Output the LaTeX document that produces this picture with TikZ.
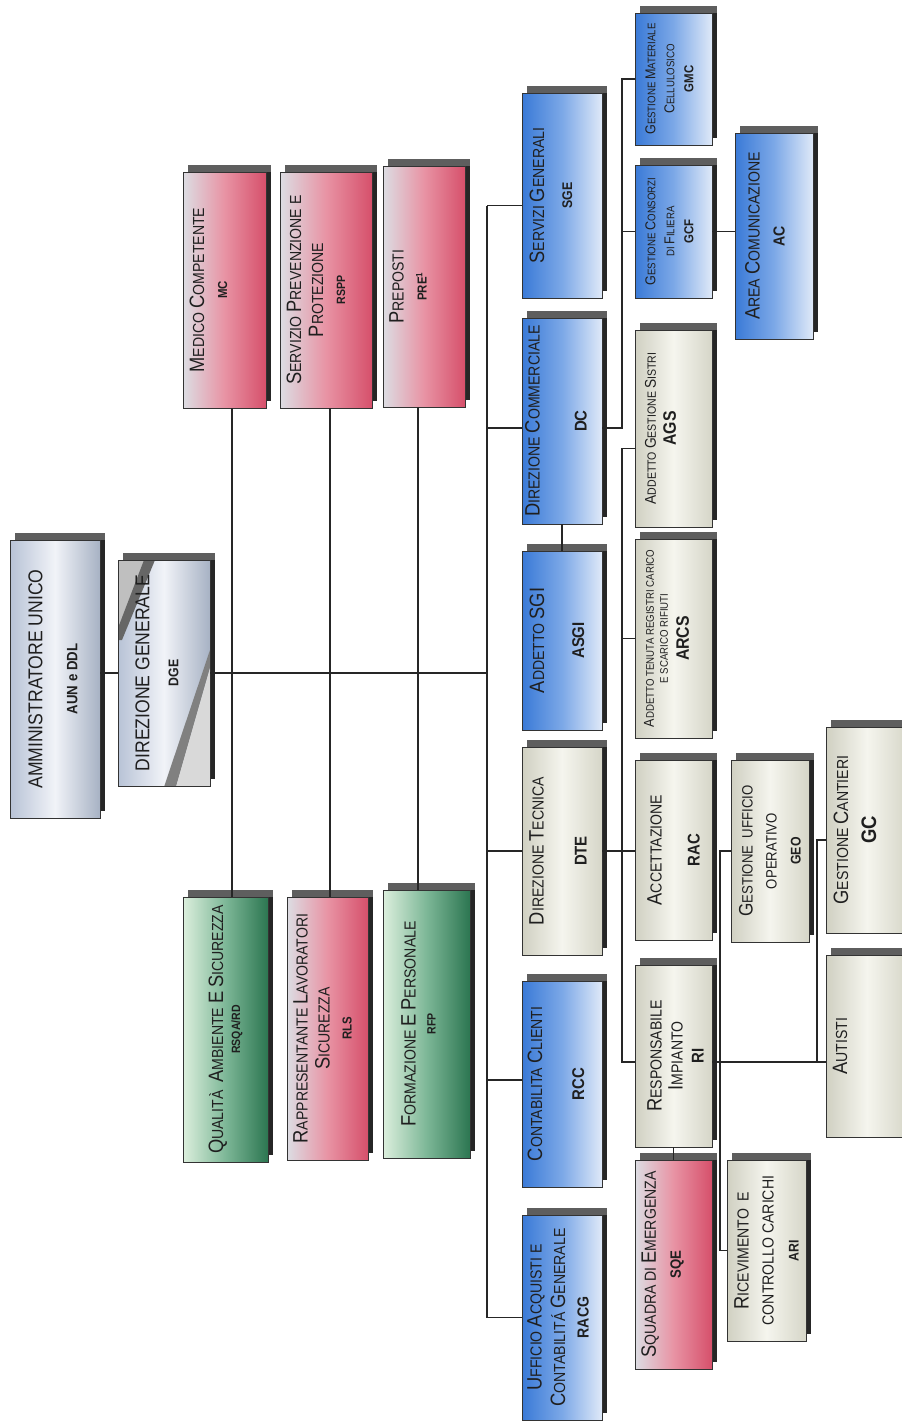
\documentclass[tikz,border=0pt]{standalone}
\usepackage{fontspec}
\setmainfont{Liberation Sans}[FakeStretch=0.88]
\usetikzlibrary{calc}
\makeatletter
\newcommand\B[1]{{\fontsize{\dimexpr 1.3\dimexpr\f@size pt\relax\relax}{0pt}\selectfont #1}}
\makeatother
\newcommand\fz[1]{\bfseries\fontsize{#1}{#1}\selectfont}
\newcommand\fs[2]{\fontsize{#1}{#2}\selectfont}
\definecolor{shadowdark}{HTML}{262626}
\definecolor{shadowgrey}{HTML}{5E5E5E}
\definecolor{pinkL}{HTML}{DCDDE3}
\definecolor{pinkM}{HTML}{E893A4}
\definecolor{pinkR}{HTML}{D6506B}
\definecolor{greenL}{HTML}{DCEFDD}
\definecolor{greenM}{HTML}{7DB797}
\definecolor{greenR}{HTML}{2C7651}
\definecolor{blueL}{HTML}{3A7AD7}
\definecolor{blueM}{HTML}{7CA8E7}
\definecolor{blueR}{HTML}{DFE9F8}
\definecolor{begL}{HTML}{D0D0C2}
\definecolor{begM}{HTML}{F5F5EE}
\definecolor{begR}{HTML}{D6D6C8}
\definecolor{silL}{HTML}{B8C3D6}
\definecolor{silM}{HTML}{F1F3F8}
\definecolor{silR}{HTML}{A7B2C4}
\tikzset{
  box/.style={draw=black!80, line width=0.8pt, inner sep=0pt, outer sep=0pt},
  pinkbox/.style={left color=pinkL, right color=pinkR, middle color=pinkM},
  greenbox/.style={left color=greenL, right color=greenR, middle color=greenM},
  bluebox/.style={left color=blueL, right color=blueR, middle color=blueM},
  begbox/.style={left color=begL, right color=begR, middle color=begM},
  silbox/.style={left color=silL, right color=silR, middle color=silM},
  txt/.style={rotate=90, align=center, inner sep=0pt, text=black!88},
  link/.style={draw=black!85, line width=1.1pt},
  shadowc/.style={fill=shadowdark},
  shadowtop/.style={fill=shadowgrey}
}
% #1 name, #2 x1, #3 y1, #4 x2, #5 y2, #6 box style, #7 text dx, #8 text style, #9 text
\newcommand\orgbox[9]{%
  \fill[shadowc] ({#2+5},{#3-7}) rectangle ({#4+5},{#5-7});
  \fill[shadowtop] ({#2+5},{#3-7}) rectangle ({#4+5},{#3});
  \node[box,#6,minimum width={(#4-#2)*1pt},minimum height={(#5-#3)*1pt}] (#1) at ({(#2+#4)/2},{(#3+#5)/2}) {};
  \node[txt,#8] (#1-t) at ({(#2+#4)/2+#7},{(#3+#5)/2}) {#9};
}
\begin{document}
\begin{tikzpicture}[x=1pt,y=-1pt]
\useasboundingbox[fill=white] (0,0) rectangle (902,1422);

% top level
\fill[shadowc] (15,533) rectangle (105,811);
\fill[shadowtop] (15,533) rectangle (105,540);
\node[box,silbox,minimum width=90pt,minimum height=278pt] (aun) at (55,679) {};
\node[txt,font=\fs{20}{35}] (aun-t) at (53,679) {AMMINISTRATORE UNICO\\{\fz{15}AUN e DDL}};

\fill[shadowc] (123,553) rectangle (215,779);
\fill[shadowtop] (123,553) rectangle (215,560);
\node[box,silbox,minimum width=92pt,minimum height=226pt] (dge) at (164,673) {};
\begin{scope}
  \clip (dge.south west) rectangle (dge.north east);
  \fill[black!25] (118,560) -- (147,560) -- (118,628) -- cycle;
  \fill[black!60] (144,560) -- (155,560) -- (122,640) -- (118,640) -- (118,628) -- cycle;
  \fill[black!50] (210,650) -- (210,668) -- (176,787) -- (164,787) -- cycle;
  \fill[black!15] (210,668) -- (210,787) -- (176,787) -- cycle;
\end{scope}
\draw[box] (dge.south west) rectangle (dge.north east);
\node[txt,font=\fs{20}{29}] (dge-t) at (157,673) {DIREZIONE GENERALE\\{\fz{14}DGE}};

% staff boxes
\orgbox{mc}{183}{172}{266}{408}{pinkbox}{-16}{font=\fs{16}{23}}{\B{M}EDICO \B{C}OMPETENTE\\{\fz{13}MC}}
\orgbox{rspp}{280}{172}{372}{408}{pinkbox}{-10}{font=\fs{16}{22}}{\B{S}ERVIZIO \B{P}REVENZIONE E\\\B{P}ROTEZIONE\\{\fz{12}RSPP}}
\orgbox{pre}{383}{166}{465}{407}{pinkbox}{-16}{font=\fs{16}{23}}{\B{P}REPOSTI\\{\fz{13}PRE\textsuperscript{1}}}
\orgbox{qas}{183}{897}{268}{1162}{greenbox}{0}{font=\fs{16}{17}}{\B{Q}UALITÀ\ \ \B{A}MBIENTE \B{E} \B{S}ICUREZZA\\{\fz{12}RSQA/RD}}
\orgbox{rls}{287}{897}{368}{1160}{pinkbox}{-5}{font=\fs{16}{22}}{\B{R}APPRESENTANTE \B{L}AVORATORI\\\B{S}ICUREZZA\\{\fz{13}RLS}}
\orgbox{rfp}{383}{890}{470}{1158}{greenbox}{-8}{font=\fs{16}{20}}{\B{F}ORMAZIONE \B{E} \B{P}ERSONALE\\{\fz{12}RFP}}

% main column
\orgbox{sge}{522}{93}{602}{298}{bluebox}{-11}{font=\fs{16}{28}}{\B{S}ERVIZI \B{G}ENERALI\\{\fz{14}SGE}}
\orgbox{dc}{522}{318}{602}{524}{bluebox}{-6}{font=\fs{16}{47}}{\B{D}IREZIONE \B{C}OMMERCIALE\\{\fz{17}DC}}
\orgbox{asgi}{522}{551}{602}{730}{bluebox}{-5}{font=\fs{16}{40}}{\B{A}DDETTO \B{SGI}\\{\fz{17}ASGI}}
\orgbox{dte}{522}{747}{602}{955}{begbox}{-4}{font=\fs{16}{43}}{\B{D}IREZIONE \B{T}ECNICA\\{\fz{17}DTE}}
\orgbox{rcc}{522}{981}{602}{1187}{bluebox}{-6}{font=\fs{16}{42}}{\B{C}ONTABILITA \B{C}LIENTI\\{\fz{17}RCC}}
\orgbox{racg}{522}{1215}{602}{1420}{bluebox}{-4}{font=\fs{16}{23.5}}{\B{U}FFICIO \B{A}CQUISTI E\\\B{C}ONTABILITÁ \B{G}ENERALE\\{\fz{16}RACG}}

% second column
\orgbox{gmc}{635}{13}{712}{145}{bluebox}{-4}{font=\fs{11}{19}}{\B{G}ESTIONE \B{M}ATERIALE\\\B{C}ELLULOSICO\\{\fz{13}GMC}}
\orgbox{gcf}{635}{165}{712}{298}{bluebox}{-4}{font=\fs{11}{19}}{\B{G}ESTIONE \B{C}ONSORZI\\DI \B{F}ILIERA\\{\fz{13}GCF}}
\orgbox{ac}{735}{133}{813}{339}{bluebox}{-9}{font=\fs{16}{25}}{\B{A}REA \B{C}OMUNICAZIONE\\{\fz{16}AC}}
\orgbox{ags}{635}{330}{712}{527}{begbox}{-13}{font=\fs{12}{20}}{\B{A}DDETTO \B{G}ESTIONE \B{S}ISTRI\\{\fz{18}AGS}}
\orgbox{arcs}{635}{539}{712}{738}{begbox}{-7}{font=\fs{11}{14}}{\B{A}DDETTO TENUTA REGISTRI CARICO\\E SCARICO RIFIUTI\\[7pt]{\fz{18}ARCS}}
\orgbox{rac}{635}{760}{712}{940}{begbox}{0}{font=\fs{16}{38}}{\B{A}CCETTAZIONE\\{\fz{17}RAC}}
\orgbox{ri}{635}{965}{712}{1147}{begbox}{2}{font=\fs{16}{21}}{\B{R}ESPONSABILE\\\B{I}MPIANTO\\{\fz{17}RI}}
\orgbox{sqe}{635}{1160}{712}{1369}{pinkbox}{-11}{font=\fs{16}{25}}{\B{S}QUADRA DI \B{E}MERGENZA\\{\fz{15}SQE}}

% third / fourth columns
\orgbox{geo}{731}{760}{809}{942}{begbox}{0}{font=\fs{15}{24}}{\B{G}ESTIONE\ \ UFFICIO\\OPERATIVO\\{\fz{14}GEO}}
\orgbox{ari}{727}{1160}{806}{1341}{begbox}{0}{font=\fs{16}{25}}{\B{R}ICEVIMENTO\ \ E\\CONTROLLO CARICHI\\{\fz{14}ARI}}
\orgbox{gc}{826}{727}{908}{933}{begbox}{-12}{font=\fs{16}{28}}{\B{G}ESTIONE \B{C}ANTIERI\\{\fz{21}GC}}
\orgbox{autisti}{826}{955}{908}{1137}{begbox}{-27}{font=\fs{16}{20}}{\B{A}UTISTI}

% bus coordinates
\coordinate (bx) at (487,0);
\coordinate (bx2) at (622,0);
\coordinate (bx3) at (720,0);
\coordinate (bx4) at (817,0);
\coordinate (v1) at (232,0);
\coordinate (v2) at (330,0);
\coordinate (v3) at (418,0);
\coordinate (sgeL) at ($(sge.west)+(0,10)$);
\coordinate (dcL) at ($(dc.west)+(0,7)$);
\coordinate (dcR) at ($(dc.east)+(0,7)$);
\coordinate (rccL) at ($(rcc.west)+(0,-4)$);
\coordinate (agsL) at ($(ags.west)+(0,20)$);
\coordinate (riL) at ($(ri.west)+(0,6)$);
\coordinate (riR) at ($(ri.east)+(0,6)$);
\coordinate (gcL) at ($(gc.west)+(0,10)$);

% connectors
\draw[link] (aun.east |- dge.west) -- (dge.west);
\draw[link] (dge.east) -- (bx |- dge.east);
\draw[link] (v1 |- mc.south) -- (v1 |- qas.north);
\draw[link] (v2 |- rspp.south) -- (v2 |- rls.north);
\draw[link] (v3 |- pre.south) -- (v3 |- rfp.north);
\draw[link] (bx |- sgeL) -- (bx |- racg.west);
\draw[link] (sgeL) -- (bx |- sgeL);
\draw[link] (dcL) -- (bx |- dcL);
\draw[link] (dte.west) -- (bx |- dte.west);
\draw[link] (rccL) -- (bx |- rccL);
\draw[link] (racg.west) -- (bx |- racg.west);
\draw[link] (dc.south) -- (asgi.north);
\draw[link] (dcR) -- (bx2 |- dcR) -- (bx2 |- gmc.west) -- (gmc.west);
\draw[link] (gcf.west) -- (bx2 |- gcf.west);
\draw[link] (gcf.east) -- (ac.west |- gcf.east);
\draw[link] (agsL) -- (bx2 |- agsL) -- (bx2 |- riL) -- (riL);
\draw[link] (arcs.west) -- (bx2 |- arcs.west);
\draw[link] (dte.east) -- (rac.west |- dte.east);
\draw[link] (ri.south) -- (sqe.north);
\draw[link] (riR) -- (autisti.west |- riR);
\draw[link] (geo.west) -- (bx3 |- geo.west) -- (bx3 |- ari.west) -- (ari.west);
\draw[link] (gcL) -- (bx4 |- gcL) -- (bx4 |- riR);
\end{tikzpicture}
\end{document}
